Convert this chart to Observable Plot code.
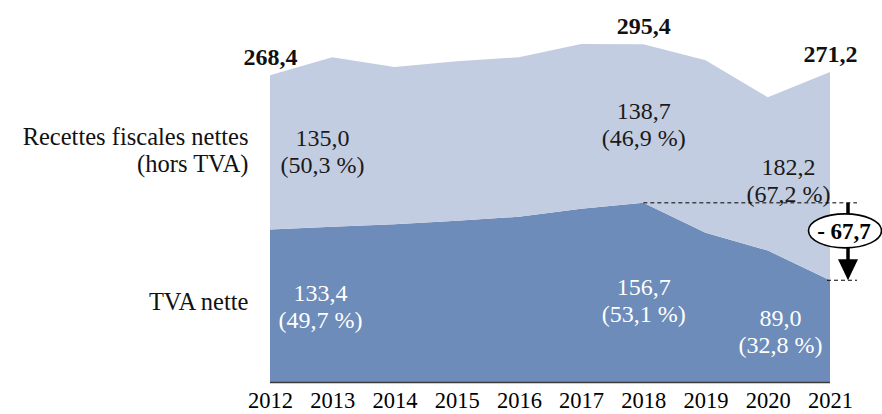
<!DOCTYPE html>
<html><head><meta charset="utf-8">
<script src="https://cdn.jsdelivr.net/npm/d3@7"></script>
<script src="https://cdn.jsdelivr.net/npm/@observablehq/plot@0.6"></script>
<style>
body{margin:0;background:#fff}
#chart svg{display:block}
</style>
</head><body><div id="chart"></div>
<script>
// ---- data ----
const years = [2012, 2013, 2014, 2015, 2016, 2017, 2018, 2019, 2020, 2021];
const tvaNette = [133.4, 135.8, 138.0, 141.0, 144.6, 151.5, 156.7, 130.5, 115.0, 89.0];
const recettesHorsTva = [135.0, 148.2, 137.5, 139.5, 139.4, 144.1, 138.7, 151.0, 134.0, 182.2];
const seriesNames = ["TVA nette", "Recettes fiscales nettes (hors TVA)"];
const labelYears = [2012, 2018, 2021];
const tvaShare = [49.7, 53.1, 32.8];
const recShare = [50.3, 46.9, 67.2];
const leftLabels = ["Recettes fiscales nettes\n(hors TVA)", "TVA nette"];

// ---- layout / style ----
const W = 882, H = 414;
const darkBlue = "#6d8cba", lightBlue = "#c3cde1";
const serifFont = "Liberation Serif";
const recOffsets = [[52, -2], [0, 0], [-42, 3]];
const tvaOffsets = [[50, 0], [0, 7], [-50, -1]];

const fmt = v => v.toFixed(1).replace(".", ",");
const idx = yr => years.indexOf(yr);
const total = i => tvaNette[i] + recettesHorsTva[i];
const midTva = i => tvaNette[i] / 2;
const midRec = i => tvaNette[i] + recettesHorsTva[i] / 2;

const rows = [];
years.forEach((yr, i) => rows.push({year: yr, value: tvaNette[i], serie: seriesNames[0]}));
years.forEach((yr, i) => rows.push({year: yr, value: recettesHorsTva[i], serie: seriesNames[1]}));

const innerMarks = [];
labelYears.forEach((yr, k) => {
  innerMarks.push(Plot.text([yr], {
    x: d => d, y: d => midRec(idx(d)),
    text: d => `${fmt(recettesHorsTva[idx(d)])}\n(${fmt(recShare[k])} %)`,
    dx: recOffsets[k][0], dy: recOffsets[k][1], fontFamily: serifFont,
    fill: "#1a1a1a", fontSize: 24, lineHeight: 1.13, lineAnchor: "middle"
  }));
  innerMarks.push(Plot.text([yr], {
    x: d => d, y: d => midTva(idx(d)),
    text: d => `${fmt(tvaNette[idx(d)])}\n(${fmt(tvaShare[k])} %)`,
    dx: tvaOffsets[k][0], dy: tvaOffsets[k][1], fontFamily: serifFont,
    fill: "#ffffff", fontSize: 24, lineHeight: 1.13, lineAnchor: "middle"
  }));
});

const chart = Plot.plot({
  width: W, height: H,
  marginLeft: 270, marginRight: 52, marginTop: 39, marginBottom: 32,
  style: {fontFamily: serifFont, fontSize: "22.5px", color: "#000", background: "#fff"},
  x: {domain: [2012, 2021], ticks: years, tickSize: 0, tickPadding: 10, tickFormat: d => String(d), label: null},
  y: {domain: [0, 300], axis: null},
  color: {domain: seriesNames, range: [darkBlue, lightBlue]},
  marks: [
    Plot.areaY(rows, {x: "year", y: "value", fill: "serie"}),
    Plot.ruleY([0], {stroke: "#3a3a3a", strokeWidth: 1.5}),
    Plot.text([years[0]], {x: d => d, y: d => midRec(idx(d)), text: () => leftLabels[0], fontFamily: serifFont,
      textAnchor: "end", dx: -22, dy: -3, fill: "#111", fontSize: 24.5, lineHeight: 1.13, lineAnchor: "middle"}),
    Plot.text([years[0]], {x: d => d, y: d => midTva(idx(d)), text: () => leftLabels[1], fontFamily: serifFont,
      textAnchor: "end", dx: -22, dy: -4, fill: "#111", fontSize: 24.5, lineAnchor: "middle"}),
    Plot.text(labelYears, {x: d => d, y: d => total(idx(d)), text: d => fmt(total(idx(d))), fontFamily: serifFont,
      fontWeight: "bold", fontSize: 24, dy: -18, fill: "#111", lineAnchor: "middle"}),
    ...innerMarks
  ]
});

// ---- annotation (variation of net VAT 2018 -> 2021) ----
function scaleFn(desc) {
  if (desc && typeof desc.apply === "function") return v => desc.apply(v);
  return d3.scaleLinear().domain(desc.domain).range(desc.range);
}
const sx = scaleFn(chart.scale("x")), sy = scaleFn(chart.scale("y"));
const i18 = idx(2018), i21 = idx(2021);
const yTop = sy(tvaNette[i18]), yBot = sy(tvaNette[i21]);
const xEnd = sx(2021);
const variation = tvaNette[i21] - tvaNette[i18];
const g = d3.select(chart).append("g");
g.append("line").attr("x1", sx(2018)).attr("x2", xEnd + 27).attr("y1", yTop).attr("y2", yTop)
  .attr("stroke", "#000").attr("stroke-width", 1).attr("stroke-dasharray", "4,3");
g.append("line").attr("x1", xEnd - 3).attr("x2", xEnd + 27).attr("y1", yBot).attr("y2", yBot)
  .attr("stroke", "#000").attr("stroke-width", 1).attr("stroke-dasharray", "4,3");
const ax = xEnd + 18;
g.append("line").attr("x1", ax).attr("x2", ax).attr("y1", yTop).attr("y2", yBot - 19)
  .attr("stroke", "#000").attr("stroke-width", 3.5);
g.append("path").attr("d", `M${ax - 10},${yBot - 21}L${ax + 10},${yBot - 21}L${ax},${yBot}Z`).attr("fill", "#000");
const cy = yTop + 28;
g.append("ellipse").attr("cx", ax - 3).attr("cy", cy).attr("rx", 36.5).attr("ry", 17)
  .attr("fill", "#fff").attr("stroke", "#000").attr("stroke-width", 1.6);
g.append("text").attr("x", ax - 4).attr("y", cy).attr("dy", "0.35em").attr("text-anchor", "middle")
  .attr("font-family", serifFont).attr("font-weight", "bold").attr("font-size", 23).attr("fill", "#000")
  .text("- " + fmt(Math.abs(variation)));

d3.select(chart).selectAll("text").attr("font-family", serifFont).style("font-family", serifFont);
document.getElementById("chart").appendChild(chart);
</script>
</body></html>
